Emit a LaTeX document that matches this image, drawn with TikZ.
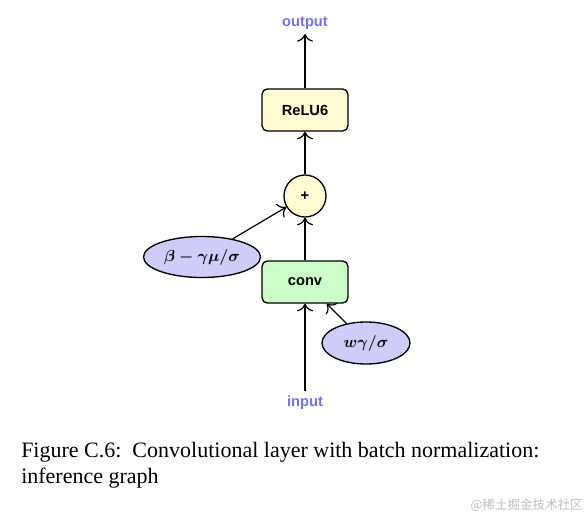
\documentclass[tikz,border=0pt]{standalone}
\usepackage{fontspec}
\setmainfont{Liberation Serif}
\setsansfont{Liberation Sans}
\newfontfamily\cjk{Noto Sans CJK SC}
\usepackage{xcolor}
\usetikzlibrary{positioning,arrows.meta,shapes.geometric}

\definecolor{opyellow}{HTML}{FFFBD2}
\definecolor{convgreen}{HTML}{CCFCC8}
\definecolor{parblue}{HTML}{CFCDF8}
\definecolor{iotext}{HTML}{7470F0}

\begin{document}
\begin{tikzpicture}[x=0.75pt, y=-0.75pt, >={To[scale=1.6]},
  box/.style={draw, line width=1pt, rounded corners=4pt, minimum width=64.5pt, minimum height=31.5pt, font=\sffamily\bfseries\fontsize{11}{13}\selectfont},
  opnode/.style={draw, line width=1pt, circle, fill=opyellow, minimum size=31.5pt, inner sep=0pt, font=\sffamily\bfseries\fontsize{11}{13}\selectfont},
  param/.style={draw, line width=1pt, ellipse, fill=parblue, inner sep=0pt, font=\fontsize{11.5}{13}\selectfont\boldmath},
  io/.style={text=iotext, font=\sffamily\bfseries\fontsize{11}{13}\selectfont},
  link/.style={->, line width=0.9pt}]
\useasboundingbox (0,0) rectangle (586,518);

\node[io] (output) at (305,23) {output};
\node[box, fill=opyellow] (relu) at (305,110) {ReLU6};
\node[opnode] (plus) at (305,196) {+};
\node[param, minimum width=87.75pt, minimum height=30.75pt] (shift) at (202,257) {$\beta-\gamma\mu/\sigma$};
\node[box, fill=convgreen] (conv) at (305,282) {conv};
\node[param, minimum width=66pt, minimum height=31.5pt] (scale) at (366,343) {$w\gamma/\sigma$};
\node[io] (input) at (305,403) {input};

\draw[link] (input) -- (conv);
\draw[link] (scale) -- (conv);
\draw[link] (conv) -- (plus);
\draw[link] (shift) -- (plus);
\draw[link] (plus) -- (relu);
\draw[link] (relu) -- (output);

\node[anchor=north west, align=left, font=\fontsize{16.5}{19.6}\selectfont, inner sep=0pt] (caption) at (21,442)
  {Figure C.6:\ \ Convolutional layer with batch normalization:\\inference graph};
\node[anchor=south east, text=black!25, font=\cjk\fontsize{9.4}{10}\selectfont, inner sep=0pt] (mark) at (583,512) {@稀土掘金技术社区};
\end{tikzpicture}
\end{document}
